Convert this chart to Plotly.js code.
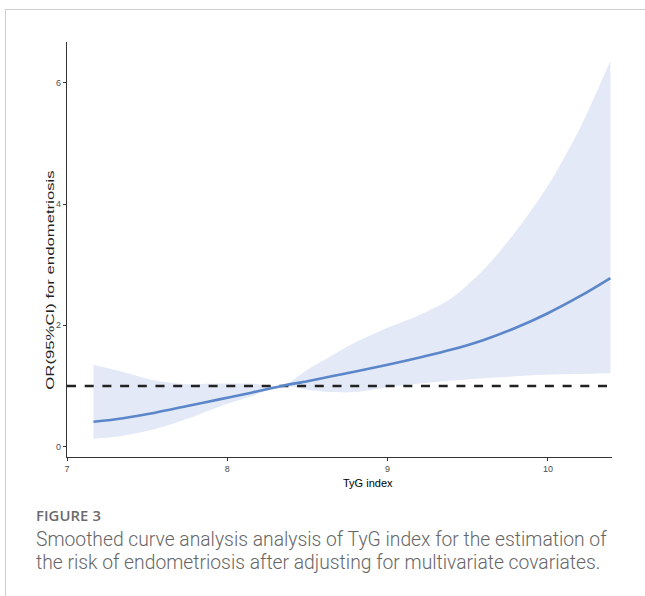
<!DOCTYPE html>
<html>
<head>
<meta charset="utf-8">
<script src="https://cdn.plot.ly/plotly-3.0.1.min.js"></script>
<style>
  html, body { margin: 0; padding: 0; background: #fff; }
  body { width: 645px; height: 596px; position: relative; overflow: hidden; }
  #frame { position: absolute; left: 5px; top: 9px; width: 640px; height: 587px;
           border-top: 1px solid #cfcfcf; border-left: 1px solid #cfcfcf; box-sizing: border-box; }
  #chart { position: absolute; left: 0; top: 0; width: 645px; height: 596px; }
  #ylab { position: absolute; left: 50px; top: 280px; white-space: nowrap;
          font-family: "Liberation Sans", Arial, sans-serif; font-size: 11px; line-height: 11px; color: #222;
          transform: translate(-50%, -50%) rotate(-90deg) scaleX(1.52); }
  .figlabel { position: absolute; left: 36px; top: 505px; font-family: "Open Sans", sans-serif;
              font-size: 14.8px; line-height: 20px; font-weight: 600; color: #6b6b6b; letter-spacing: 0.1px; }
  .capline { position: absolute; left: 36px; width: 610px; font-family: Roboto, "Open Sans", sans-serif;
             font-size: 19.3px; font-weight: 300; line-height: 23px; height: 23px; color: #666; white-space: nowrap; }
</style>
</head>
<body>
<div id="frame"></div>
<div id="chart"></div>
<div id="ylab">OR(95%CI) for endometriosis</div>
<div class="figlabel">FIGURE 3</div>
<div class="capline" style="top:528px">Smoothed curve analysis analysis of TyG index for the estimation of</div>
<div class="capline" style="top:551px">the risk of endometriosis after adjusting for multivariate covariates.</div>
<script>
// TyG index values
const tyg = [7.165, 7.35, 7.55, 7.75, 7.95, 8.15, 8.34, 8.5, 8.65, 8.8, 9.0, 9.2, 9.4, 9.6, 9.8, 10.0, 10.2, 10.39];
// Smoothed OR estimate
const orFit = [0.41, 0.47, 0.56, 0.67, 0.78, 0.89, 1.00, 1.08, 1.16, 1.24, 1.35, 1.47, 1.60, 1.76, 1.96, 2.20, 2.48, 2.78];
// 95% CI upper bound
const ciUpper = [1.35, 1.23, 1.09, 1.03, 1.04, 1.04, 1.00, 1.27, 1.50, 1.72, 1.96, 2.17, 2.45, 2.92, 3.55, 4.30, 5.25, 6.36];
// 95% CI lower bound
const ciLower = [0.13, 0.18, 0.29, 0.46, 0.66, 0.83, 1.00, 0.94, 0.90, 0.90, 0.98, 1.04, 1.09, 1.13, 1.16, 1.19, 1.20, 1.21];
// reference line
const refOR = 1;
// axes
const xTicks = [7, 8, 9, 10];
const yTicks = [0, 2, 4, 6];
const xRange = [7, 10.40];
const yRange = [-0.17, 6.67];

const traces = [
  { x: tyg, y: ciUpper, type: 'scatter', mode: 'lines', line: { width: 0, color: 'rgba(0,0,0,0)', shape: 'spline', smoothing: 0.8 },
    hoverinfo: 'skip', showlegend: false },
  { x: tyg, y: ciLower, type: 'scatter', mode: 'lines', line: { width: 0, color: 'rgba(0,0,0,0)', shape: 'spline', smoothing: 0.8 },
    fill: 'tonexty', fillcolor: '#E3E9F6', hoverinfo: 'skip', showlegend: false },
  { x: xRange, y: [refOR, refOR], type: 'scatter', mode: 'lines',
    line: { color: '#222222', width: 2.4, dash: '9px,8.7px' }, showlegend: false, cliponaxis: false },
  { x: tyg, y: orFit, type: 'scatter', mode: 'lines', line: { color: '#5B86C9', width: 2.6, shape: 'spline', smoothing: 1 },
    showlegend: false }
];

const axisCommon = {
  showgrid: false, zeroline: false, showline: true, linecolor: '#333333', linewidth: 1.3,
  ticks: 'outside', ticklen: 3, tickwidth: 1, tickcolor: '#333333',
  tickfont: { family: 'Liberation Sans, Arial, sans-serif', size: 9, color: '#4D4D4D' },
  fixedrange: true
};

const layout = {
  width: 645, height: 596,
  margin: { l: 67, r: 33, t: 42, b: 139, pad: 0 },
  paper_bgcolor: 'rgba(0,0,0,0)', plot_bgcolor: 'rgba(0,0,0,0)',
  xaxis: Object.assign({}, axisCommon, { range: xRange, tickvals: xTicks, ticktext: xTicks.map(String) }),
  yaxis: Object.assign({}, axisCommon, { range: yRange, tickvals: yTicks, ticktext: yTicks.map(String) }),
  annotations: [
    { text: 'TyG index', xref: 'paper', yref: 'paper', x: 0.552, y: -0.044, xanchor: 'center', yanchor: 'top',
      showarrow: false, font: { family: 'Liberation Sans, Arial, sans-serif', size: 11, color: '#000' } }
  ],
  showlegend: false
};

Plotly.newPlot('chart', traces, layout, { staticPlot: true, displayModeBar: false });
</script>
</body>
</html>
